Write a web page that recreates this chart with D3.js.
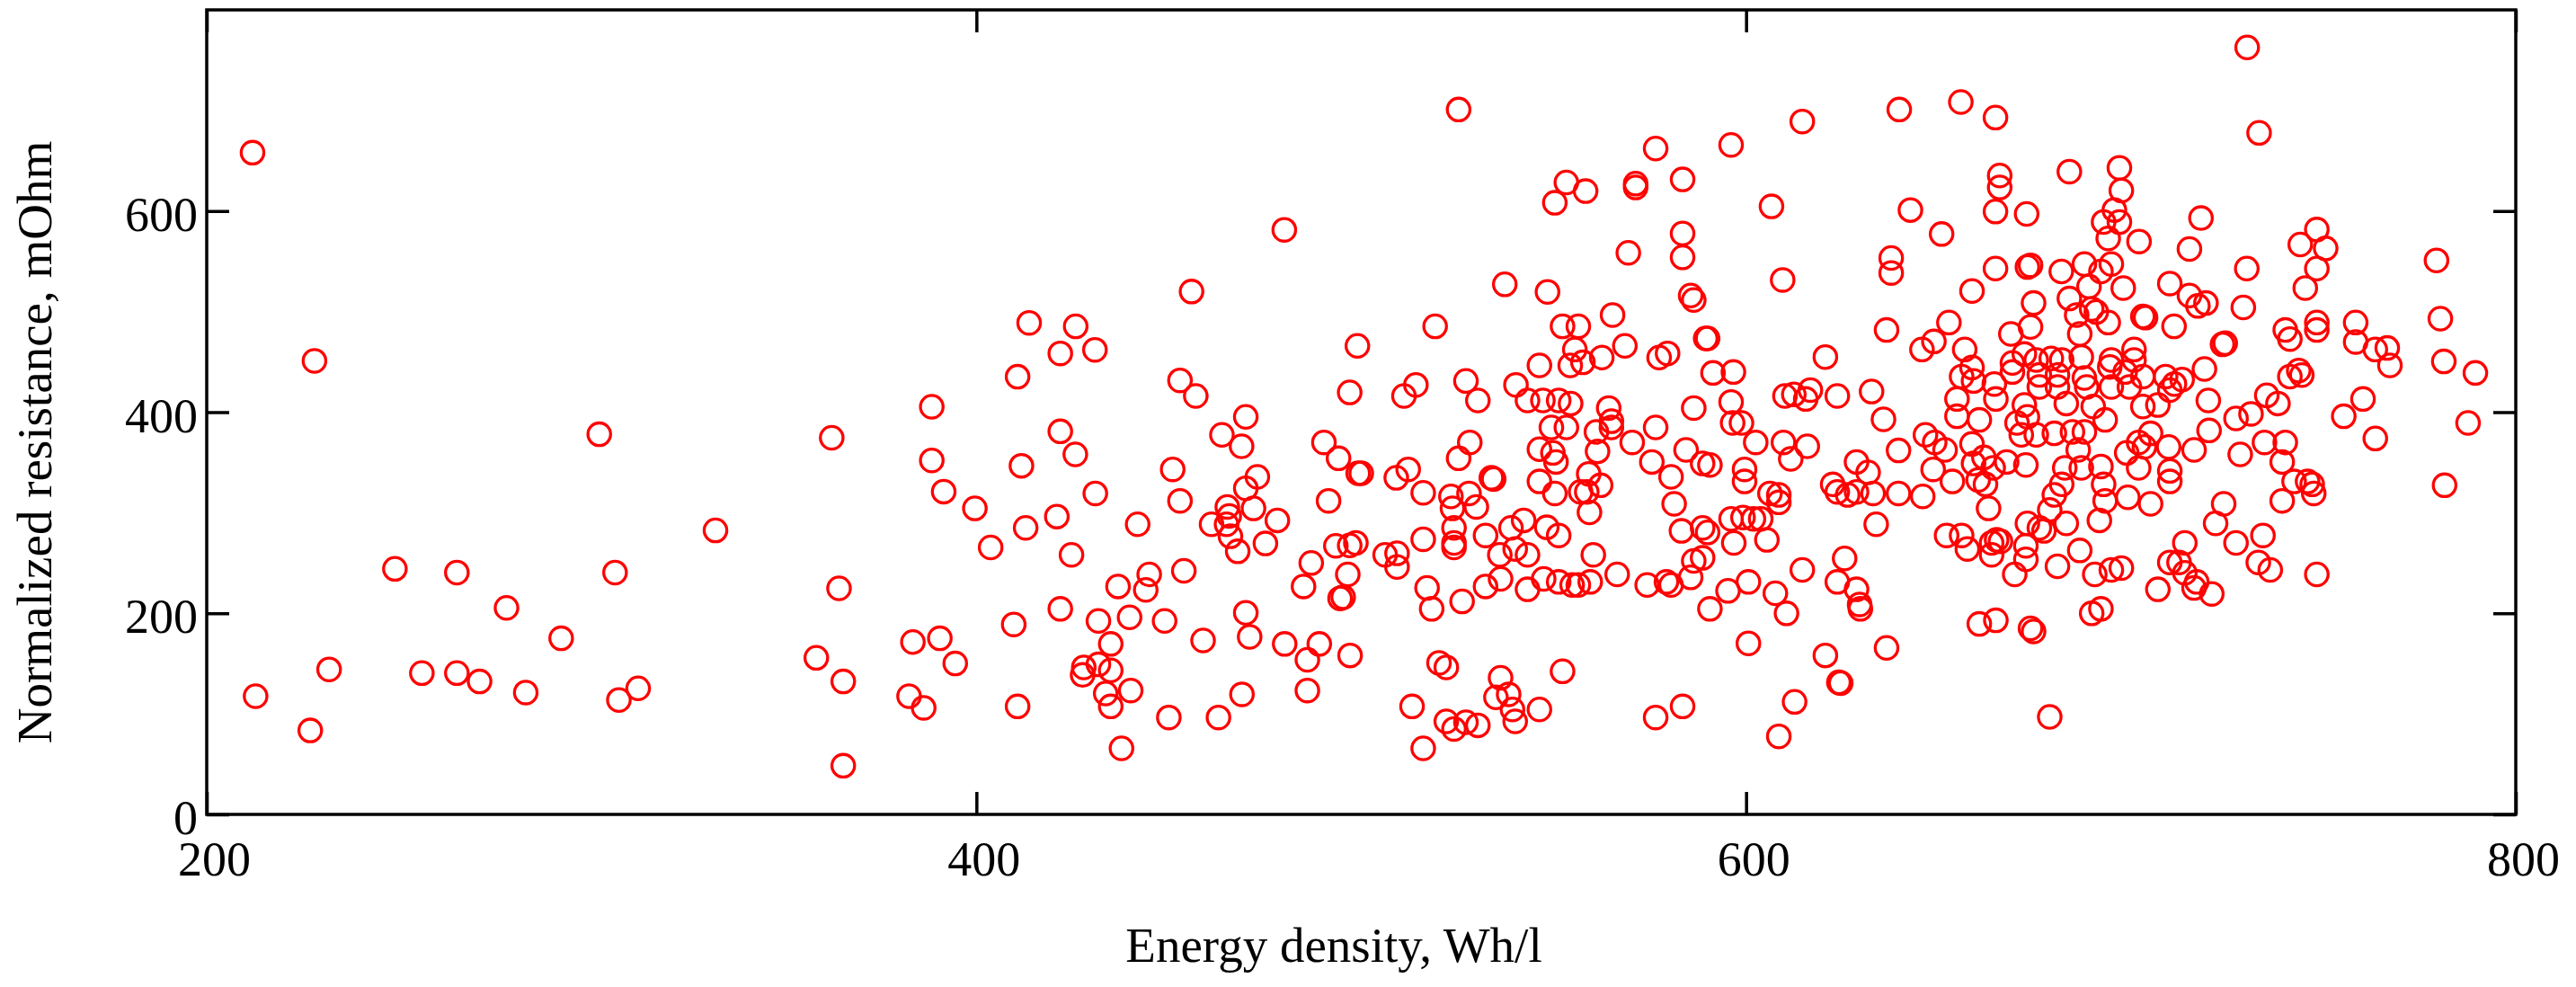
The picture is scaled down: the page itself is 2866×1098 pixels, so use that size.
<!DOCTYPE html>
<html>
<head>
<meta charset="utf-8">
<script src="https://cdn.jsdelivr.net/npm/d3@7"></script>
<style>
  html, body { margin: 0; padding: 0; background: #fff; }
  svg { display: block; }
  text { font-family: "Liberation Serif", "Times New Roman", serif; fill: #000; }
</style>
</head>
<body>
<svg id="chart" width="2866" height="1098"></svg>
<script>
// ---- Data (energy density Wh/l, normalized resistance mOhm) ----
const energyDensity = [
  // sparse low-energy region
  211.9,228,302,362.4,388.4,388.4,391.5,332.2,248.9,265,306.1,364.3,277.9,292.1,231.8,255.9,265,270.9,282.9,212.7,226.9,307.1,312.1,358.4,365.4,365.4,383.5,390.5,382.5,386.3,
  // 400-490 upper
  480.0,455.9,413.7,425.8,421.8,430.8,410.7,452.9,457,
  // 400-490 lower
  470.0,421.8,425.7,411.7,463.8,468.9,490.3,451.0,473.0,470.0,430.9,452.9,399.6,491.5,465.2,472.0,465.7,461.1,465.0,478.2,420.9,412.8,441.9,466.0,467.9,475.1,403.7,424.7,487.0,485.0,444.9,453.9,436.8,444.0,421.8,409.7,431.7,439.8,448.9,470.0,434.9,458.9,471.0,480.1,489.1,486.0,394.5,427.9,427.6,431.7,434.9,440.1,433.6,434.9,410.7,469.0,486.0,450.0,462.9,437.7,
  // 490-595 upper
  525.3,576.5,553.3,558.3,550.3,571.3,571.3,583.5,583.5,583.5,569.4,537.3,548.4,585.6,586.4,565.3,519.2,499.0,552.3,556.4,568.5,555.5,590.0,589.5,562.5,557.6,554.3,546.3,577.4,579.6,591.4,497.0,514.2,511.1,527.2,530.3,540.2,543.2,547.2,551.3,554.4,564.3,586.4,
  // 490-595 lower
  494.1,499.2,500.0,509.1,512.2,516.1,525.3,528.2,523.3,523.7,528.0,529.9,533.8,534.4,524.1,524.1,524.1,516.1,532.3,538.9,542.2,536.0,540.0,543.2,548.2,551.3,546.3,549.8,550.6,546.3,550.3,549.4,553.3,561.1,565.0,565.0,561.4,570.4,576.5,559.1,562.2,557.0,558.6,559.3,575.5,580.5,584.4,588.7,590.6,581.3,583.2,588.7,590.0,560.3,566.5,574.3,579.3,580.5,585.6,586.4,588.7,590.6,493.4,498.6,497.0,496.5,494.5,495.3,506.2,509.3,509.3,517.1,518.3,526.2,532.3,536.2,543.2,547.4,551.3,554.8,556.4,559.5,497.1,520.2,522.1,536.2,535.0,538.3,539.3,540.0,546.3,552.3,513.2,522.1,524.1,527.2,530.3,516.1,576.5,583.5,
  // 595-697 upper
  596.1,614.6,639.8,655.8,664.8,606.6,642.7,665.9,665.9,664.8,672.9,684.0,650.8,692.9,694.1,695.7,637.7,637.7,609.5,664.8,673.1,673.9,681.9,687.9,692.2,694.9,658.7,674.7,684.0,689.1,689.8,685.9,691.0,694.1,636.5,652.7,648.8,645.7,656.8,668.8,673.9,686.7,620.6,596.7,596.1,610.1,612.4,615.5,616.7,623.7,632.6,656.0,658.7,659.1,664.5,669.2,672.3,669.2,675.4,679.3,682.0,687.1,694.9,694.5,676.2,680.9,687.9,676.2,680.9,688.5,694.9,654.8,664.9,672.3,683.2,690.2,
  // 595-697 lower
  596.5,598.8,602.5,609.7,611.6,615.9,635.7,639.6,599.6,599.6,606.2,608.5,608.5,596.1,599.2,601.9,603.8,596.8,605.4,628.7,631.7,622.5,623.7,626.4,628.7,633.0,639.6,645.9,633.8,646.6,649.0,651.7,648.6,653.6,654.8,660.6,658.7,661.8,664.2,659.1,660.3,662.2,667.7,672.7,663.0,670.4,673.1,671.5,675.4,680.1,684.8,687.9,693.3,686.3,682.8,687.1,692.2,682.0,680.1,692.9,693.3,691.8,673.1,676.2,677.4,678.9,683.2,652.1,656.0,657.5,663.8,665.1,666.1,663.8,672.7,672.7,669.8,680.9,686.7,690.6,694.9,689.8,692.2,660.6,664.9,673.9,674.7,614.6,625.6,623.7,628.7,629.5,629.7,600.6,595.3,607.6,610.5,600.6,620.6,624.1,624.6,636.5,612.6,608.5,678.9,
  // 697-800 upper
  730.2,733.3,697.0,697.5,697.0,718.2,702.1,715.2,748.3,744.0,750.6,748.3,730.1,745.3,779.4,698,710.1,715.2,717.4,719.5,729.2,703.1,703.8,711.2,740.1,741.3,748.3,748.3,758.4,758.4,763.5,766.6,767.3,780.4,781.3,789.5,723.8,724.5,700.8,700.8,698.5,699.6,703.1,709.0,711.3,713.3,710.1,719.1,703.1,707.0,720.1,741.3,743.6,744.4,735.3,738.2,760.3,
  // 697-800 lower
  787.6,763.5,755.3,781.5,727.3,731.2,720.3,728.4,734.7,740.1,739.3,742.4,745.9,747.1,747.5,739.3,705.1,702.0,703.5,709.8,716.4,698.9,702.0,710.1,710.1,699.2,705.1,724.1,722.0,727.3,734.3,733.1,736.2,748.3,714.0,710.1,712.5,714.0,717.1,716.4,721.0,707.0,697.5
];
const resistance = [
  658,451,378,374.5,405.4,352,321,282.4,244.2,240.5,240.5,224.8,205.4,175.1,144.2,140.5,140.5,132.2,121.2,117.5,83.5,113.8,125.4,155.7,132.2,48.4,171.4,175.1,117.5,106,
  581.3,519.9,488.8,485.3,458.4,462,435.2,431.6,416.1,
  395.3,380.9,358.0,346.7,377.4,366.0,369.9,343.1,335.6,324.3,319.2,311.8,304.3,311.8,305.8,304.3,296.8,288.5,288.5,292.4,296.2,284.9,288.5,276.6,261.6,269.4,265.5,258.1,250.0,226.7,238.7,242.2,226.7,223.2,204.4,188.9,192.4,196.0,192.4,200.5,169.5,173.0,176.6,169.5,169.5,153.7,150.1,146.2,138.7,149.2,143.2,123.2,120.2,107.4,107.4,119.4,123.2,96.4,96.4,65.7,
  700.9,662.1,628.4,619.8,608.2,627.2,623.4,631.4,577.7,553.9,558.4,527.1,519.6,516.0,511.5,496.6,485.3,465.9,485.3,485.3,465.9,462.3,473.3,473.3,454.3,449.5,446.5,446.5,454.3,458.4,439.0,419.6,427.1,416.1,431.0,411.6,427.1,411.6,411.6,411.6,408.6,404.1,404.1,
  354.1,339.2,339.2,334.7,343.1,319.8,354.1,369.9,316.2,304.3,319.2,305.8,334.7,333.5,284.9,270.0,265.5,273.6,277.4,284.9,292.4,258.1,264.0,258.1,285.5,277.4,363.1,359.5,350.5,331.1,319.2,384.8,384.8,380.4,384.8,391,361.0,369.9,384.8,338.6,327.3,320.7,320.7,300.4,350.5,335.6,362.5,349.0,347.5,308.8,281.9,284.9,280.4,258.1,238.7,228.2,231.2,228.2,235.7,252.1,255.1,204.4,267.0,270.0,267.5,238.7,214.8,216.0,258.1,259.6,246.1,225.2,204.4,211.8,226.7,234.2,223.8,234.2,231.2,228.2,228.2,231.2,158.1,150.7,146.2,135.8,116.4,119.4,104.4,92.5,104.4,142.3,107.4,92.5,85.0,91.6,88.6,65.7,96.4,107.4,
  665.7,689.0,700.9,708.4,692.9,604.6,601.0,635.3,623.4,599.5,597.1,639.2,577.1,589.1,572.7,601.0,553.3,538.4,531.5,542.8,544.3,546.0,539.9,547.3,539.9,547.3,520.5,508.5,513.0,524.9,502.6,496.6,499.6,489.1,481.7,489.1,470.3,462.3,462.3,477.8,484.7,477.8,454.8,439.9,410.1,416.1,417.6,413.1,422.0,416.1,420.5,435.4,444.4,431.0,428.0,448.9,457.8,439.9,451.9,453.4,451.9,454.8,451.9,445,437.0,437.0,434.0,425.0,425.0,425.0,425.0,413.1,413.1,407.1,408.6,405.6,
  389.3,389.3,369.9,369.9,353.5,366.0,392.9,361.9,343.1,331.1,319.2,317.7,310.3,293.9,295.3,293.9,293.9,270.0,273.0,350.5,340.1,328.2,320.7,317.7,320.7,319.2,319.2,316.2,288.5,377.4,369.9,362.5,343.1,331.1,395.9,392.3,368.4,355.0,344.6,349.0,332.6,328.2,350.5,347.5,304.3,389.3,395.3,377.4,377.4,378.9,380.4,380.4,392.3,362.5,344.6,344.6,346.0,328.2,317.7,328.2,311.8,292.4,289.4,284.9,281.9,302.8,289.4,277.4,277.4,264.0,270.0,273.0,271.5,258.1,267.0,253.6,238.7,246.7,262.5,238.7,243.1,199.9,204.4,189.4,193.0,185.0,182.0,243.1,254.5,231.2,223.8,208.8,204.4,231.2,222.3,219.9,199.9,170.1,158.1,131.3,130.5,165.6,111.9,77.6,97.0,
  762.7,677.7,643,620.4,589,593.0,569.7,562.2,581.6,566.7,562.8,542.8,542.8,523.4,550.9,523.4,527.9,516.0,505.6,508.5,504.1,495.1,494,485.3,481.7,472.7,489.1,481.7,489.1,469.8,462.3,463.8,446.5,493.0,450.4,439.0,467.4,468.5,462.3,451.9,439.9,425.0,435.4,435.4,428.0,432.5,422.0,442.9,405.6,407.1,411.6,435.4,441.4,436.9,416.7,408.6,413.1,
  389.3,373.8,395.9,327.3,393.8,398.3,381.8,358.0,369.9,369.9,350.5,331.1,331.1,328.2,319.2,311.8,378.9,369.9,365.4,365.4,362.5,359.5,344.6,341.6,331.1,315.3,308.8,308.8,289.4,270.0,277.4,250.6,243.1,238.7,270.0,250.6,250.6,240.2,231.2,225.2,219.3,223.8,245
];
const xTickValues = [200, 400, 600, 800];
const yTickValues = [0, 200, 400, 600];
const xDomain = [200, 800];
const yDomain = [0, 800];
const xTitle = "Energy density, Wh/l";
const yTitle = "Normalized resistance, mOhm";

const points = energyDensity.map((e, i) => ({ e, r: resistance[i] }));

// ---- Layout ----
const margin = { left: 230, right: 2866 - 2799, top: 11, bottom: 1098 - 906 };
const W = 2866, H = 1098;
const iw = W - margin.left - margin.right;
const ih = H - margin.top - margin.bottom;

const svg = d3.select("#chart");
const g = svg.append("g").attr("transform", `translate(${margin.left},${margin.top})`);

const x = d3.scaleLinear().domain(xDomain).range([0, iw]);
const y = d3.scaleLinear().domain(yDomain).range([ih, 0]);

const TICK = 25, FS = 54, TFS = 55, AXW = 3.5;

// points
g.append("g").selectAll("circle").data(points).join("circle")
  .attr("cx", d => x(d.e))
  .attr("cy", d => y(d.r))
  .attr("r", 12.6)
  .attr("fill", "none")
  .attr("stroke", "#ff0000")
  .attr("stroke-width", 3.3);

function styleAxis(sel) {
  sel.select(".domain").remove();
  sel.selectAll(".tick line").attr("stroke", "#000").attr("stroke-width", AXW);
  sel.selectAll(".tick text").style("font-size", FS + "px").attr("fill", "#000");
}

// bottom axis with labels
const xb = g.append("g").attr("transform", `translate(0,${ih})`)
  .call(d3.axisBottom(x).tickValues(xTickValues).tickSizeInner(-TICK).tickSizeOuter(0).tickPadding(30).tickFormat(d3.format("d")));
styleAxis(xb);
xb.selectAll(".tick text").attr("dx", 8);
// top axis (ticks only)
const xt = g.append("g")
  .call(d3.axisTop(x).tickValues(xTickValues).tickSizeInner(-TICK).tickSizeOuter(0).tickFormat(""));
styleAxis(xt);
// left axis with labels
const yl = g.append("g")
  .call(d3.axisLeft(y).tickValues(yTickValues).tickSizeInner(-TICK).tickSizeOuter(0).tickPadding(10).tickFormat(d3.format("d")));
styleAxis(yl);
yl.selectAll(".tick text").attr("dy", "0.4em");
// right axis (ticks only)
const yr = g.append("g").attr("transform", `translate(${iw},0)`)
  .call(d3.axisRight(y).tickValues(yTickValues).tickSizeInner(-TICK).tickSizeOuter(0).tickFormat(""));
styleAxis(yr);

// frame
g.append("rect").attr("x", 0).attr("y", 0).attr("width", iw).attr("height", ih)
  .attr("fill", "none").attr("stroke", "#000").attr("stroke-width", AXW);

// titles
svg.append("text")
  .attr("x", 1484).attr("y", 1070)
  .attr("text-anchor", "middle")
  .style("font-size", TFS + "px")
  .text(xTitle);

svg.append("text")
  .attr("transform", `translate(57,492) rotate(-90)`)
  .attr("text-anchor", "middle")
  .style("font-size", TFS + "px")
  .text(yTitle);
</script>
</body>
</html>
